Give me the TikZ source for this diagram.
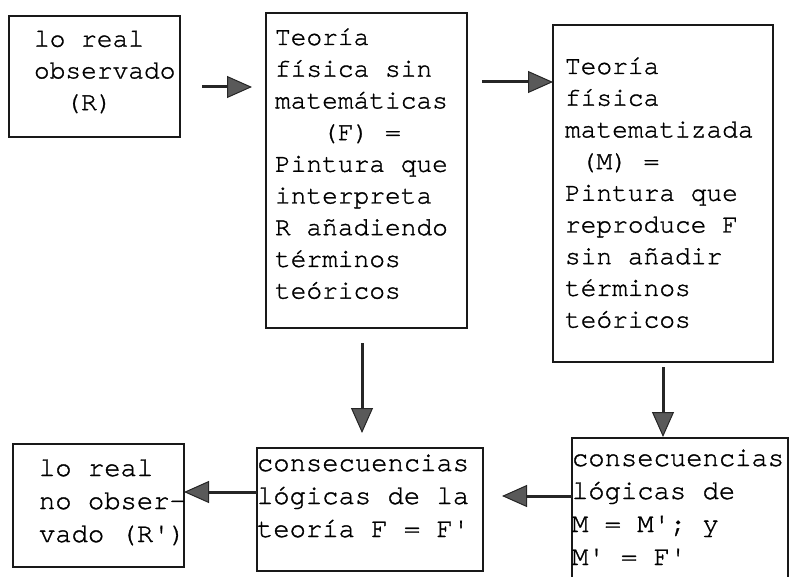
\documentclass[tikz,border=0pt]{standalone}
\usepackage{fontspec}
\setmonofont{TeX Gyre Cursor}[FakeBold=1.2]
\usetikzlibrary{arrows.meta}
\tikzset{
  box/.style={draw=black!90, line width=2.8pt, fill=white, inner sep=0pt, outer sep=0pt, anchor=north west},
  topfont/.style={font=\ttfamily\fontsize{26.2pt}{31.7pt}\selectfont},
  botfont/.style={font=\ttfamily\fontsize{27.2pt}{33pt}\selectfont},
  arr/.style={draw=black!85, line width=3pt,
    -{Triangle[length=25pt,width=22pt,line width=1pt,fill=black!65]}},
}
\newcommand\lin[1]{\hbox{\strut#1}}
\newcommand\boxtext[3]{\hbox to #1{\hspace*{#2}\vtop{#3}\hss}}
\begin{document}
\begin{tikzpicture}[x=1pt,y=-1pt]
\useasboundingbox (0,0) rectangle (789,577);
% top row
\node[box, topfont, text height=30.7pt, text depth=90.3pt] (R) at (9,16)
  {\boxtext{171pt}{25pt}{\lin{lo real}\lin{observado}\lin{\hspace*{1.2em}(R)}}};
\node[box, topfont, text height=32pt, text depth=283pt] (F) at (266,13)
  {\boxtext{201pt}{9pt}{\lin{Teoría}\lin{física sin}\lin{matemáticas}\lin{\hspace*{1.8em}(F) =}\lin{Pintura que}\lin{interpreta}\lin{R añadiendo}\lin{términos}\lin{teóricos}}};
\node[box, topfont, text height=49pt, text depth=288pt] (M) at (553,25)
  {\boxtext{220pt}{12pt}{\lin{Teoría}\lin{física}\lin{matematizada}\lin{\hspace*{0.6em}(M) =}\lin{Pintura que}\lin{reproduce F}\lin{sin añadir}\lin{términos}\lin{teóricos}}};
% bottom row
\node[box, botfont, text height=32pt, text depth=91pt] (Rp) at (13,444)
  {\boxtext{171pt}{26pt}{\lin{lo real}\lin{no obser-}\lin{vado (R')}}};
\node[box, botfont, text height=23pt, text depth=100pt] (Fp) at (257,448)
  {\boxtext{226pt}{0pt}{\lin{consecuencias}\lin{lógicas de la}\lin{teoría F = F'}}};
\node[box, botfont, text height=28pt, text depth=134pt] (Mp) at (572,438)
  {\boxtext{216pt}{0pt}{\lin{consecuencias}\lin{lógicas de}\lin{M = M'; y}\lin{M' = F'}}};
% connectors
\draw[arr, shorten <=22pt, shorten >=14pt] (R.east |- 0,87) -- (F.west |- 0,87);
\draw[arr, shorten <=15pt] (F.east |- 0,82) -- (M.west |- 0,82);
\draw[arr, shorten <=15pt, shorten >=15pt] (F.south -| 362,0) -- (Fp.north -| 362,0);
\draw[arr, shorten <=5pt, shorten >=1pt] (M.south -| 663,0) -- (Mp.north -| 663,0);
\draw[arr, shorten >=19pt] (Mp.west |- 0,496) -- (Fp.east |- 0,496);
\draw[arr] (Fp.west |- 0,492) -- (Rp.east |- 0,492);
\end{tikzpicture}
\end{document}
